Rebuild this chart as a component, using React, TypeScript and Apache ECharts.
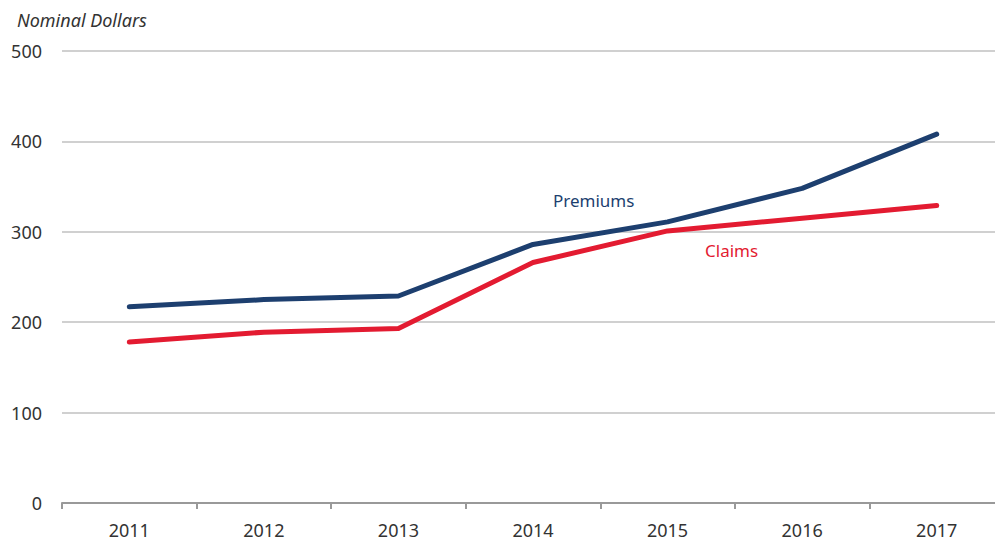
import React, { useEffect, useRef } from "react";
import * as echarts from "echarts";

const years = ["2011", "2012", "2013", "2014", "2015", "2016", "2017"];
const premiums = [217, 225, 229, 286, 311, 348, 408];
const claims = [178, 189, 193, 266, 301, 315, 329];
const yTicks = [0, 100, 200, 300, 400, 500];

const NAVY = "#1d3f6f";
const RED = "#e31b31";
const FONT = "'Noto Sans', 'Open Sans', sans-serif";

export default function App() {
  const ref = useRef<HTMLDivElement>(null);
  useEffect(() => {
    document.body.style.margin = "0";
    const chart = echarts.init(ref.current!, undefined, { renderer: "svg" });
    chart.setOption({
      animation: false,
      textStyle: { fontFamily: FONT },
      title: {
        text: "Nominal Dollars",
        left: 12,
        top: 6,
        textStyle: { fontStyle: "italic", fontWeight: "normal", fontSize: 18, color: "#333", fontFamily: FONT },
      },
      grid: { left: 62, right: 0, top: 51, bottom: 38, containLabel: false },
      xAxis: {
        type: "category",
        data: years,
        boundaryGap: true,
        axisLine: { lineStyle: { color: "#999", width: 2 } },
        axisTick: { show: true, length: 6, lineStyle: { color: "#999", width: 2 } },
        axisLabel: { color: "#333", fontSize: 18, margin: 18, fontFamily: FONT },
        splitLine: { show: false },
      },
      yAxis: {
        type: "value",
        min: yTicks[0],
        max: yTicks[yTicks.length - 1],
        interval: 100,
        axisLine: { show: false },
        axisTick: { show: false },
        axisLabel: { color: "#333", fontSize: 18, margin: 20, fontFamily: FONT },
        splitLine: { lineStyle: { color: "#d0d0d0", width: 2 } },
      },
      series: [
        {
          name: "Premiums",
          type: "line",
          data: premiums,
          symbol: "none",
          lineStyle: { color: NAVY, width: 5, cap: "round", join: "round" },
          z: 3,
        },
        {
          name: "Claims",
          type: "line",
          data: claims,
          symbol: "none",
          lineStyle: { color: RED, width: 5, cap: "round", join: "round" },
          z: 2,
        },
      ],
      graphic: [
        {
          type: "text",
          left: 553,
          top: 192,
          style: { text: "Premiums", fill: NAVY, fontSize: 17, fontFamily: FONT },
        },
        {
          type: "text",
          left: 705,
          top: 242,
          style: { text: "Claims", fill: RED, fontSize: 17, fontFamily: FONT },
        },
      ],
    });
    return () => chart.dispose();
  }, []);
  return (
    <div style={{ width: 995, height: 541, overflow: "hidden" }}>
      <div ref={ref} style={{ width: 1004, height: 541 }} />
    </div>
  );
}
